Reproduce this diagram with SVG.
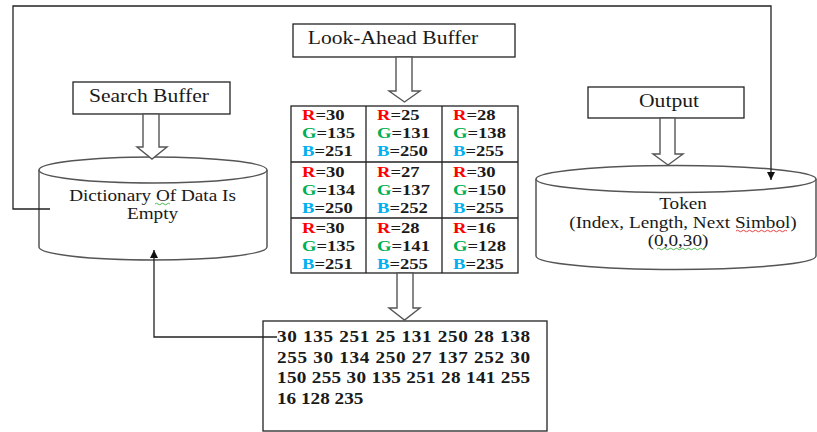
<svg xmlns="http://www.w3.org/2000/svg" width="817" height="432" viewBox="0 0 817 432">
<style>
.box{fill:#fff;stroke:#222;stroke-width:1.3}
.cyl{fill:#fff;stroke:#555;stroke-width:1.5}
.harrow{fill:#fff;stroke:#555;stroke-width:1.4}
.grid{fill:none;stroke:#222;stroke-width:1.3}
.conn{fill:none;stroke:#222;stroke-width:1.3}
text{font-family:"Liberation Serif","Times New Roman",serif;fill:#1a1a1a}
.lbl{font-size:18px}
.cyt{font-size:16px}
.cell{font-size:15.5px;font-weight:bold}
.seq{font-size:16px;font-weight:bold}
.r{fill:#ff0000}.g{fill:#00b050}.b{fill:#00b0f0}
.sqg{fill:none;stroke:#3cb043;stroke-width:0.9}
.sqr{fill:none;stroke:#e03030;stroke-width:0.9}
</style>
<defs>
<marker id="ah" viewBox="0 0 10 10" refX="10" refY="5" markerWidth="8" markerHeight="8" markerUnits="userSpaceOnUse" orient="auto">
<path d="M0,0 L10,5 L0,10 z" fill="#111"/>
</marker>
</defs>

<g id="search-buffer">
<rect class="box" x="73" y="82" width="157" height="32"/>
<text class="lbl" text-anchor="middle" transform="translate(149,102) scale(1.2,1)">Search Buffer</text>
</g>

<g id="dictionary">
<path class="cyl" d="M39,170 V247 A114,13 0 0 0 267,247 V170"/>
<ellipse class="cyl" cx="153" cy="170" rx="114" ry="13"/>
<text class="cyt" text-anchor="middle" transform="translate(152.5,201) scale(1.2,1)">Dictionary Of Data Is</text>
<text class="cyt" text-anchor="middle" transform="translate(152.5,219) scale(1.2,1)">Empty</text>
<path class="sqg" d="M155,204 q1.5,-1.5 3,0 t3,0 t3,0 t3,0 t3,0"/>
</g>

<g id="look-ahead-buffer">
<rect class="box" x="293" y="24" width="222" height="33"/>
<text class="lbl" text-anchor="middle" transform="translate(393,44) scale(1.2,1)">Look-Ahead Buffer</text>
</g>

<g id="pixel-grid">
<rect class="grid" x="291" y="106" width="227" height="167"/>
<line class="grid" x1="366" y1="106" x2="366" y2="273"/>
<line class="grid" x1="442" y1="106" x2="442" y2="273"/>
<line class="grid" x1="291" y1="162" x2="518" y2="162"/>
<line class="grid" x1="291" y1="218" x2="518" y2="218"/>

<text class="cell" transform="translate(302,120) scale(1.2,1)"><tspan class="r">R</tspan>=30</text>
<text class="cell" transform="translate(302,138) scale(1.2,1)"><tspan class="g">G</tspan>=135</text>
<text class="cell" transform="translate(302,156) scale(1.2,1)"><tspan class="b">B</tspan>=251</text>
<text class="cell" transform="translate(377,120) scale(1.2,1)"><tspan class="r">R</tspan>=25</text>
<text class="cell" transform="translate(377,138) scale(1.2,1)"><tspan class="g">G</tspan>=131</text>
<text class="cell" transform="translate(377,156) scale(1.2,1)"><tspan class="b">B</tspan>=250</text>
<text class="cell" transform="translate(453,120) scale(1.2,1)"><tspan class="r">R</tspan>=28</text>
<text class="cell" transform="translate(453,138) scale(1.2,1)"><tspan class="g">G</tspan>=138</text>
<text class="cell" transform="translate(453,156) scale(1.2,1)"><tspan class="b">B</tspan>=255</text>

<text class="cell" transform="translate(302,177) scale(1.2,1)"><tspan class="r">R</tspan>=30</text>
<text class="cell" transform="translate(302,195) scale(1.2,1)"><tspan class="g">G</tspan>=134</text>
<text class="cell" transform="translate(302,213) scale(1.2,1)"><tspan class="b">B</tspan>=250</text>
<text class="cell" transform="translate(377,177) scale(1.2,1)"><tspan class="r">R</tspan>=27</text>
<text class="cell" transform="translate(377,195) scale(1.2,1)"><tspan class="g">G</tspan>=137</text>
<text class="cell" transform="translate(377,213) scale(1.2,1)"><tspan class="b">B</tspan>=252</text>
<text class="cell" transform="translate(453,177) scale(1.2,1)"><tspan class="r">R</tspan>=30</text>
<text class="cell" transform="translate(453,195) scale(1.2,1)"><tspan class="g">G</tspan>=150</text>
<text class="cell" transform="translate(453,213) scale(1.2,1)"><tspan class="b">B</tspan>=255</text>

<text class="cell" transform="translate(302,233) scale(1.2,1)"><tspan class="r">R</tspan>=30</text>
<text class="cell" transform="translate(302,251) scale(1.2,1)"><tspan class="g">G</tspan>=135</text>
<text class="cell" transform="translate(302,269) scale(1.2,1)"><tspan class="b">B</tspan>=251</text>
<text class="cell" transform="translate(377,233) scale(1.2,1)"><tspan class="r">R</tspan>=28</text>
<text class="cell" transform="translate(377,251) scale(1.2,1)"><tspan class="g">G</tspan>=141</text>
<text class="cell" transform="translate(377,269) scale(1.2,1)"><tspan class="b">B</tspan>=255</text>
<text class="cell" transform="translate(453,233) scale(1.2,1)"><tspan class="r">R</tspan>=16</text>
<text class="cell" transform="translate(453,251) scale(1.2,1)"><tspan class="g">G</tspan>=128</text>
<text class="cell" transform="translate(453,269) scale(1.2,1)"><tspan class="b">B</tspan>=235</text>
</g>

<g id="sequence">
<rect class="box" x="263" y="321" width="284" height="110"/>
<text class="seq" transform="translate(277,342) scale(1.2,1)" textLength="211" lengthAdjust="spacing">30 135 251 25 131 250 28 138</text>
<text class="seq" transform="translate(277,362.5) scale(1.2,1)" textLength="211" lengthAdjust="spacing">255 30 134 250 27 137 252 30</text>
<text class="seq" transform="translate(277,383) scale(1.2,1)" textLength="211" lengthAdjust="spacing">150 255 30 135 251 28 141 255</text>
<text class="seq" transform="translate(277,404) scale(1.2,1)">16 128 235</text>
</g>

<g id="output">
<rect class="box" x="588" y="87" width="156" height="31"/>
<text class="lbl" text-anchor="middle" transform="translate(669,107) scale(1.2,1)">Output</text>
</g>

<g id="token">
<path class="cyl" d="M536,179 V256 A140,13.5 0 0 0 816,256 V179"/>
<ellipse class="cyl" cx="676" cy="179" rx="140" ry="13.5"/>
<text class="cyt" text-anchor="middle" transform="translate(683,209) scale(1.2,1)">Token</text>
<text class="cyt" text-anchor="middle" transform="translate(683,228) scale(1.2,1)">(Index, Length, Next Simbol)</text>
<text class="cyt" text-anchor="middle" transform="translate(678,246) scale(1.2,1)">(0,0,30)</text>
<path class="sqr" d="M736,231 q1.5,-1.5 3,0 t3,0 t3,0 t3,0 t3,0 t3,0 t3,0 t3,0 t3,0 t3,0 t3,0 t3,0 t3,0 t3,0 t3,0 t3,0 t3,0"/>
<path class="sqg" d="M657,249 q1.5,-1.5 3,0 t3,0 t3,0 t3,0 t3,0 t3,0 t3,0 t3,0 t3,0 t3,0 t3,0 t3,0 t3,0 t3,0 t3,0 t3,0"/>
</g>

<g id="connectors">
<polyline class="conn" points="50,209 13,209 13,6 771,6 771,180" marker-end="url(#ah)"/>
<polyline class="conn" points="277,337 154,337 154,250" marker-end="url(#ah)"/>
<path class="harrow" d="M143,114 H159 V147 H167 L152,159 L137,147 H143 Z"/>
<path class="harrow" d="M396,57 H412 V91 H420 L404.5,102 L389,91 H396 Z"/>
<path class="harrow" d="M397,273 H413 V308 H420 L404.5,320 L389,308 H397 Z"/>
<path class="harrow" d="M660,118 H675 V154 H683 L668,165 L653,154 H660 Z"/>
</g>
</svg>
